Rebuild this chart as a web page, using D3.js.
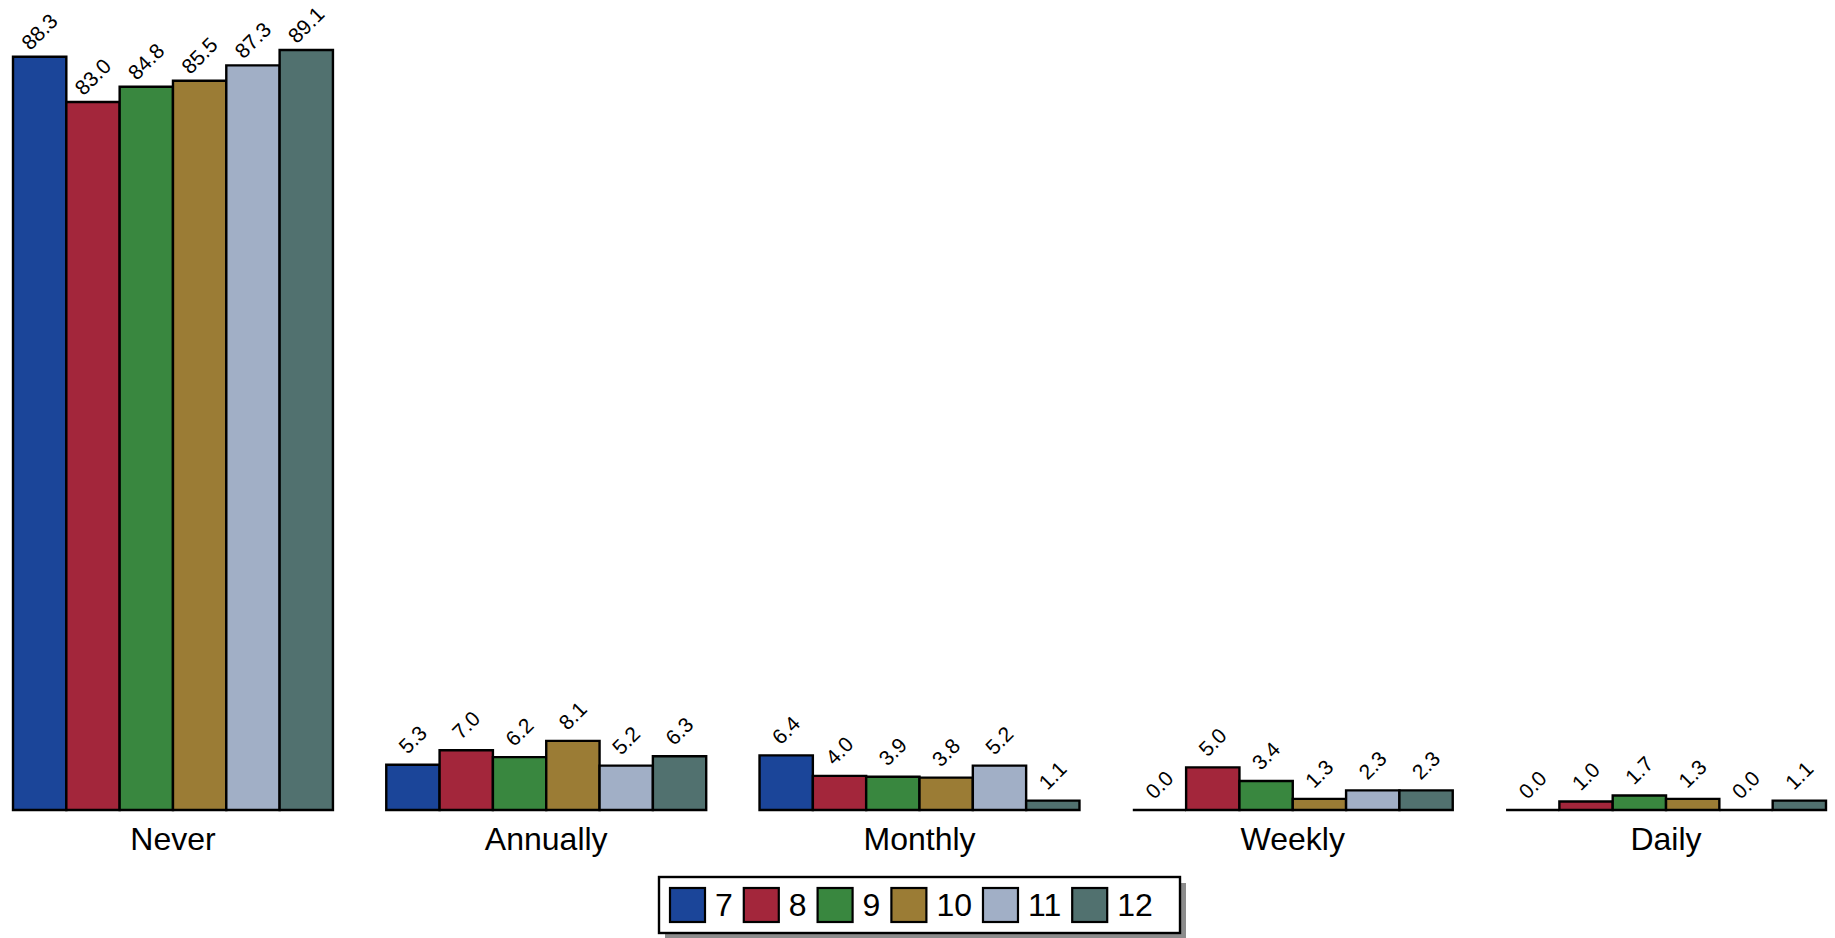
<!DOCTYPE html>
<html>
<head>
<meta charset="utf-8">
<script src="https://cdn.jsdelivr.net/npm/d3@7"></script>
<style>
  html, body { margin: 0; padding: 0; background: #fff; }
  svg { display: block; font-family: "Liberation Sans", Arial, Helvetica, sans-serif; }
</style>
</head>
<body>
<svg id="chart" width="1835" height="938"></svg>
<script>
// ---- data ----
const categories = ["Never", "Annually", "Monthly", "Weekly", "Daily"];
const grades = ["7", "8", "9", "10", "11", "12"];
const grade7  = [88.3, 5.3, 6.4, 0.0, 0.0];
const grade8  = [83.0, 7.0, 4.0, 5.0, 1.0];
const grade9  = [84.8, 6.2, 3.9, 3.4, 1.7];
const grade10 = [85.5, 8.1, 3.8, 1.3, 1.3];
const grade11 = [87.3, 5.2, 5.2, 2.3, 0.0];
const grade12 = [89.1, 6.3, 1.1, 2.3, 1.1];
const seriesValues = [grade7, grade8, grade9, grade10, grade11, grade12];
const colors = ["#1b4599", "#a3263b", "#39873f", "#9b7c35", "#a1afc6", "#51716f"];

// ---- layout ----
const svg = d3.select("#chart");
const baseY = 810;
const x0 = d3.scaleBand().domain(categories).range([13, 1826]).paddingInner(1 / 7).paddingOuter(0);
const x1 = d3.scaleBand().domain(grades).range([0, x0.bandwidth()]).padding(0);
const maxV = d3.max(seriesValues.flat());
const y = d3.scaleLinear().domain([0, maxV]).range([baseY, 50]);
const color = d3.scaleOrdinal().domain(grades).range(colors);

const rows = [];
categories.forEach((c, ci) => {
  grades.forEach((g, gi) => {
    rows.push({ cat: c, grade: g, value: seriesValues[gi][ci] });
  });
});

const groups = svg.append("g").selectAll("g")
  .data(categories).join("g")
  .attr("transform", d => `translate(${x0(d)},0)`);

groups.selectAll("path.bar")
  .data(c => rows.filter(r => r.cat === c))
  .join("path")
  .attr("class", "bar")
  .attr("d", d => {
    const xl = x1(d.grade), w = x1.bandwidth(), yt = y(d.value);
    return `M${xl},${baseY}V${yt}H${xl + w}V${baseY}Z`;
  })
  .attr("fill", d => color(d.grade))
  .attr("stroke", "#000")
  .attr("stroke-width", 2.4)
  .attr("stroke-linejoin", "miter");

groups.selectAll("text.val")
  .data(c => rows.filter(r => r.cat === c))
  .join("text")
  .attr("class", "val")
  .attr("transform", d => `translate(${x1(d.grade) + x1.bandwidth() / 2 + 5},${y(d.value) - 20}) rotate(-45)`)
  .attr("text-anchor", "middle")
  .attr("font-size", 21)
  .attr("fill", "#000")
  .text(d => d3.format(".1f")(d.value));

// category labels
const xAxis = d3.axisBottom(x0).tickSize(0).tickPadding(0);
const axG = svg.append("g").attr("transform", `translate(0,${baseY})`).call(xAxis);
axG.select(".domain").remove();
axG.selectAll("text")
  .attr("font-size", 32)
  .attr("fill", "#000")
  .attr("font-family", "'Liberation Sans', Arial, Helvetica, sans-serif")
  .attr("dy", null)
  .attr("y", 40);

// ---- legend ----
const legend = svg.append("g");
const legItems = legend.append("g");
let cursor = 0;
grades.forEach((g, i) => {
  const it = legItems.append("g").attr("transform", `translate(${cursor},0)`);
  it.append("rect")
    .attr("x", 0).attr("y", 0).attr("width", 35).attr("height", 34)
    .attr("fill", color(g)).attr("stroke", "#000").attr("stroke-width", 2.2);
  const t = it.append("text")
    .attr("x", 45).attr("y", 28)
    .attr("font-size", 32).attr("fill", "#000")
    .text(g);
  const tw = t.node().getComputedTextLength();
  cursor += 45 + tw + (i < grades.length - 1 ? 11 : 0);
});
const boxW = 521, boxH = 56;
const boxX = 919.5 - boxW / 2, boxY = 877;
legend.insert("rect", ":first-child")
  .attr("x", boxX).attr("y", boxY).attr("width", boxW).attr("height", boxH)
  .attr("fill", "#fff").attr("stroke", "#000").attr("stroke-width", 2.4);
legend.insert("rect", ":first-child")
  .attr("x", boxX + 6).attr("y", boxY + 6).attr("width", boxW).attr("height", boxH)
  .attr("fill", "#8c8c8c");
legItems.attr("transform", `translate(${boxX + 11},${boxY + 11})`);
</script>
</body>
</html>
